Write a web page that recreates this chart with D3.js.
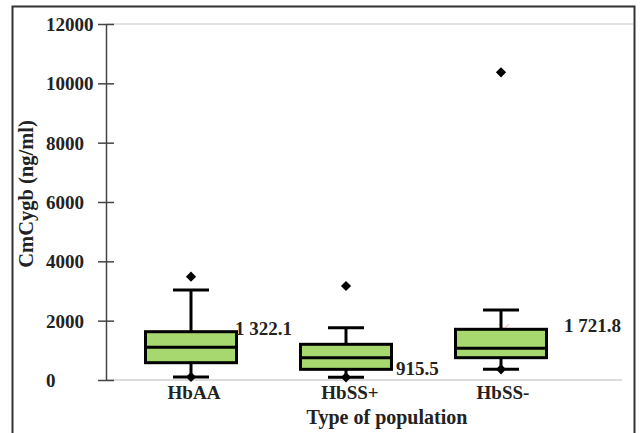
<!DOCTYPE html>
<html>
<head>
<meta charset="utf-8">
<script src="https://cdn.jsdelivr.net/npm/d3@7"></script>
<style>
  html, body { margin: 0; padding: 0; background: #fff; }
  svg text { font-family: "Liberation Serif", "Times New Roman", serif; font-weight: bold; fill: #222; }
</style>
</head>
<body>
<svg id="chart" width="643" height="433"></svg>
<script>
// Box-plot statistics per population group (ng/ml)
const categories = ["HbAA", "HbSS+", "HbSS-"];
const q1Values = [583, 360, 752];
const medianValues = [1102, 752, 1068];
const q3Values = [1628, 1203, 1709];
const whiskerLow = [101, 90, 360];
const whiskerHigh = [3034, 1764, 2360];
const outlierValues = [3482, 3169, 10372];
const meanValues = [1322.1, 915.5, 1721.8];
const meanLabels = ["1 322.1", "915.5", "1 721.8"];
const yTicks = [0, 2000, 4000, 6000, 8000, 10000, 12000];

const svg = d3.select("#chart");

// Outer frame (open at the bottom)
svg.append("path")
  .attr("d", "M12.5,433 V6.5 H634.5 V433")
  .attr("fill", "none").attr("stroke", "#333").attr("stroke-width", 2);

const y = d3.scaleLinear().domain([0, 12000]).range([380, 24]);
const x = d3.scalePoint().domain(categories).range([191, 501]);
const boxW = 91, capW = 36;

// Top reference line and baseline
svg.append("line").attr("x1", 106).attr("x2", 633).attr("y1", y(12000)).attr("y2", y(12000))
  .attr("stroke", "#d9d9d9").attr("stroke-width", 1.5);
svg.append("line").attr("x1", 106).attr("x2", 622).attr("y1", y(0)).attr("y2", y(0))
  .attr("stroke", "#d0d0d0").attr("stroke-width", 1.5);

// Y axis
const yAxis = d3.axisLeft(y).tickValues(yTicks).tickSizeInner(8).tickSizeOuter(0).tickFormat(d3.format("d"));
const gy = svg.append("g").attr("transform", "translate(106,0)").call(yAxis);
gy.select(".domain").attr("stroke", "#444").attr("stroke-width", 1.5);
gy.selectAll(".tick line").attr("x1", -8).attr("x2", 8).attr("stroke", "#444").attr("stroke-width", 1.5);
gy.selectAll(".tick text")
  .attr("text-anchor", "start").attr("x", -60).attr("dy", "0.34em")
  .attr("font-size", 19).attr("fill", "#222");

// Axis titles
svg.append("text")
  .attr("transform", `translate(33,${(y(0) + y(12000)) / 2 - 8}) rotate(-90)`)
  .attr("text-anchor", "middle").attr("font-size", 20.5)
  .text("CmCygb (ng/ml)");
svg.append("text").attr("x", 387).attr("y", 424).attr("text-anchor", "middle").attr("font-size", 20)
  .text("Type of population");

// Category labels
svg.selectAll(".cat").data(categories).join("text")
  .attr("class", "cat")
  .attr("x", (d, i) => x(d) + [3, 4, 2][i])
  .attr("y", 399).attr("text-anchor", "middle").attr("font-size", 19)
  .text(d => d);

const groups = svg.selectAll(".box").data(categories).join("g").attr("class", "box");

// Mean markers (mostly sit behind the boxes)
groups.append("path")
  .attr("d", (d, i) => {
    const cx = x(d) + 3, cy = y(meanValues[i]);
    return `M${cx - 5},${cy - 5}L${cx + 5},${cy + 5}M${cx - 5},${cy + 5}L${cx + 5},${cy - 5}`;
  })
  .attr("stroke", "#f6b8b8").attr("stroke-width", 1.2);

// Whiskers
groups.append("line")
  .attr("x1", d => x(d)).attr("x2", d => x(d))
  .attr("y1", (d, i) => y(whiskerHigh[i])).attr("y2", (d, i) => y(whiskerLow[i]))
  .attr("stroke", "#000").attr("stroke-width", 3);
groups.append("line")
  .attr("x1", d => x(d) - capW / 2).attr("x2", d => x(d) + capW / 2)
  .attr("y1", (d, i) => y(whiskerHigh[i])).attr("y2", (d, i) => y(whiskerHigh[i]))
  .attr("stroke", "#000").attr("stroke-width", 3);
groups.append("line")
  .attr("x1", d => x(d) - capW / 2).attr("x2", d => x(d) + capW / 2)
  .attr("y1", (d, i) => y(whiskerLow[i])).attr("y2", (d, i) => y(whiskerLow[i]))
  .attr("stroke", "#000").attr("stroke-width", 3);

// Boxes
groups.append("rect")
  .attr("x", d => x(d) - boxW / 2).attr("width", boxW)
  .attr("y", (d, i) => y(q3Values[i])).attr("height", (d, i) => y(q1Values[i]) - y(q3Values[i]))
  .attr("fill", "#a6d86f").attr("stroke", "#000").attr("stroke-width", 3);
groups.append("line")
  .attr("x1", d => x(d) - boxW / 2).attr("x2", d => x(d) + boxW / 2)
  .attr("y1", (d, i) => y(medianValues[i])).attr("y2", (d, i) => y(medianValues[i]))
  .attr("stroke", "#000").attr("stroke-width", 3);

// Outliers and minimum points (square turned 45 degrees)
const diamond = d3.symbol().type(d3.symbolSquare).size(52);
groups.append("path")
  .attr("transform", (d, i) => `translate(${x(d)},${y(outlierValues[i])}) rotate(45)`)
  .attr("d", diamond).attr("fill", "#000");
groups.append("path")
  .attr("transform", (d, i) => `translate(${x(d)},${y(whiskerLow[i])}) rotate(45)`)
  .attr("d", diamond).attr("fill", "#000");

// Mean value labels
const labelDx = [44, 50, 63];
const labelDy = [-6, 22, 3];
groups.append("text")
  .attr("x", (d, i) => x(d) + labelDx[i])
  .attr("y", (d, i) => y(meanValues[i]) + labelDy[i])
  .attr("font-size", 19)
  .text((d, i) => meanLabels[i]);
</script>
</body>
</html>
